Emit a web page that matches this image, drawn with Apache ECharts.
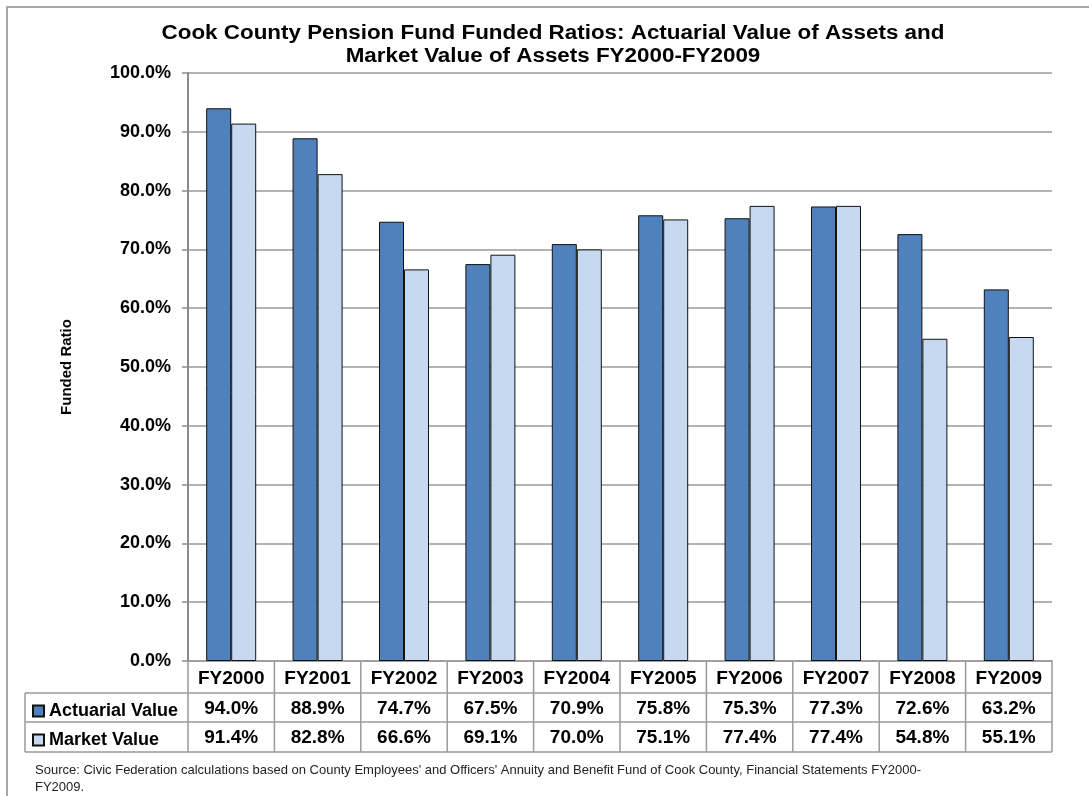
<!DOCTYPE html>
<html>
<head>
    <meta charset="utf-8" />
    <title>Cook County Pension Fund Funded Ratios</title>
    <script src="https://cdn.jsdelivr.net/npm/echarts@6/dist/echarts.min.js"></script>
    <style>
        html, body { margin: 0; padding: 0; background: #fff; }
        #main { width: 1089px; height: 796px; }
    </style>
</head>
<body>
    <div id="main"></div>
    <script type="text/javascript">
        // data
        var categories = ['FY2000', 'FY2001', 'FY2002', 'FY2003', 'FY2004', 'FY2005', 'FY2006', 'FY2007', 'FY2008', 'FY2009'];
        var actuarial = [94.0, 88.9, 74.7, 67.5, 70.9, 75.8, 75.3, 77.3, 72.6, 63.2];
        var market = [91.4, 82.8, 66.6, 69.1, 70.0, 75.1, 77.4, 77.4, 54.8, 55.1];
        var seriesNames = ['Actuarial Value', 'Market Value'];

        var FONT = 'Liberation Sans, Arial, sans-serif';
        var W = 1089, H = 796;
        var gridLeft = 188, gridRight = 37, gridTop = 73, gridBottom = 135;
        var rowTop = [661, 693, 722, 752];   // table row borders
        var labelColLeft = 25;
        var lineColor = '#9a9a9a';

        var myChart = echarts.init(document.getElementById('main'));

        function buildTable() {
            var g = [];
            var plotRight = W - gridRight;
            var step = (plotRight - gridLeft) / categories.length;
            // title (excel draws it a bit wide)
            g.push({ type: 'text', x: 553, y: 22, scaleX: 1.12, originX: 0, originY: 0,
                style: { text: 'Cook County Pension Fund Funded Ratios: Actuarial Value of Assets and\nMarket Value of Assets FY2000-FY2009',
                    font: 'bold 20px ' + FONT, fill: '#000', align: 'center', verticalAlign: 'top', lineHeight: 23 }, silent: true });
            // vertical lines of the table
            for (var i = 0; i <= categories.length; i++) {
                var x = gridLeft + i * step;
                g.push({ type: 'line', shape: { x1: x, y1: rowTop[0], x2: x, y2: rowTop[3] },
                    style: { stroke: lineColor, lineWidth: 1.5 }, silent: true });
            }
            g.push({ type: 'line', shape: { x1: labelColLeft, y1: rowTop[1], x2: labelColLeft, y2: rowTop[3] },
                style: { stroke: lineColor, lineWidth: 1.5 }, silent: true });
            // horizontal lines
            for (var r = 1; r < rowTop.length; r++) {
                g.push({ type: 'line', shape: { x1: labelColLeft, y1: rowTop[r], x2: plotRight, y2: rowTop[r] },
                    style: { stroke: lineColor, lineWidth: 1.5 }, silent: true });
            }
            // values in the cells
            var rows = [actuarial, market];
            for (var r = 0; r < rows.length; r++) {
                var cy = (rowTop[r + 1] + rowTop[r + 2]) / 2 + 1;
                for (var i = 0; i < categories.length; i++) {
                    var cx = myChart.convertToPixel({ xAxisIndex: 0 }, categories[i]);
                    g.push({ type: 'text', x: cx, y: cy,
                        style: { text: rows[r][i].toFixed(1) + '%', font: 'bold 19px ' + FONT,
                            fill: '#000', align: 'center', verticalAlign: 'middle' }, silent: true });
                }
            }
            // source note
            g.push({ type: 'text', x: 35, y: 762,
                style: { text: "Source: Civic Federation calculations based on County Employees' and Officers' Annuity and Benefit Fund of Cook County, Financial Statements FY2000-\nFY2009.",
                    font: '13px ' + FONT, fill: '#222', lineHeight: 17 }, silent: true });
            // outer frame
            g.push({ type: 'rect', shape: { x: 7, y: 7, width: W + 20, height: H + 20 },
                style: { fill: 'none', stroke: '#8c8c8c', lineWidth: 1.5 }, silent: true });
            return g;
        }

        myChart.setOption({
            animation: false,
            backgroundColor: '#fff',
            legend: {
                orient: 'vertical',
                left: 27,
                top: 696,
                itemWidth: 11,
                itemHeight: 11,
                itemGap: 9,
                icon: 'rect',
                data: seriesNames,
                textStyle: { fontFamily: FONT, fontSize: 18, fontWeight: 'bold', color: '#000', lineHeight: 20 }
            },
            grid: { left: gridLeft, right: gridRight, top: gridTop, bottom: gridBottom },
            xAxis: {
                type: 'category',
                data: categories,
                axisLine: { lineStyle: { color: lineColor, width: 1.5 } },
                axisTick: { show: false },
                axisLabel: { interval: 0, margin: 8, fontFamily: FONT, fontSize: 19, fontWeight: 'bold', color: '#000' }
            },
            yAxis: {
                type: 'value',
                min: 0,
                max: 100,
                interval: 10,
                name: 'Funded Ratio',
                nameLocation: 'middle',
                nameRotate: 90,
                nameGap: 114,
                nameTextStyle: { fontFamily: FONT, fontSize: 15, fontWeight: 'bold', color: '#000' },
                axisLine: { show: true, lineStyle: { color: '#8c8c8c', width: 2 } },
                axisTick: { show: true, length: 6, lineStyle: { color: '#8c8c8c', width: 1.5 } },
                splitLine: { lineStyle: { color: lineColor, width: 1.5 } },
                axisLabel: {
                    margin: 17, fontFamily: FONT, fontSize: 18, fontWeight: 'bold', color: '#000',
                    formatter: function (v) { return v.toFixed(1) + '%'; }
                }
            },
            series: [
                {
                    name: seriesNames[0],
                    type: 'bar',
                    data: actuarial,
                    barWidth: 25,
                    barGap: '0%',
                    itemStyle: { color: '#4F81BD', borderColor: '#111', borderWidth: 1 }
                },
                {
                    name: seriesNames[1],
                    type: 'bar',
                    data: market,
                    barWidth: 25,
                    itemStyle: { color: '#C6D9F1', borderColor: '#111', borderWidth: 1 }
                }
            ]
        });

        myChart.setOption({ graphic: buildTable() });
    </script>
</body>
</html>
